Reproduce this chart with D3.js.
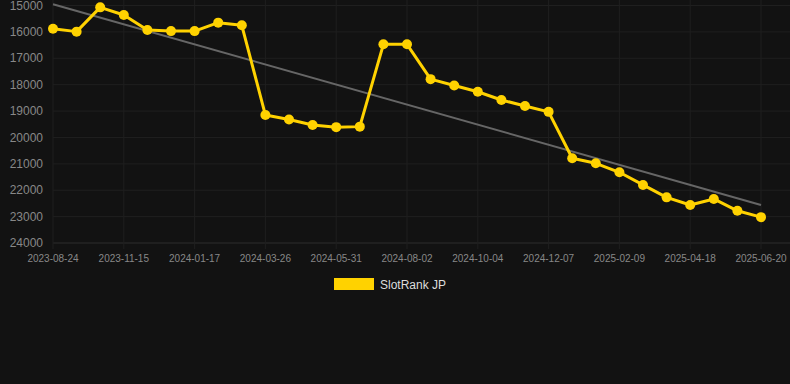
<!DOCTYPE html>
<html>
<head>
<meta charset="utf-8">
<script src="https://cdn.jsdelivr.net/npm/d3@7"></script>
<style>
  html, body { margin: 0; padding: 0; background: #121212; }
  svg { display: block; font-family: "Liberation Sans", Arial, sans-serif; }
</style>
</head>
<body>
<div id="chart"></div>
<script>
// rank values, one per sample (31 samples, every 3rd labelled)
var rankValues = [15880, 15990, 15070, 15360, 15930, 15970, 15970, 15650, 15750, 19150,
                  19320, 19530, 19610, 19590, 16470, 16470, 17790, 18030, 18270, 18580,
                  18810, 19030, 20790, 20980, 21320, 21800, 22270, 22560, 22330, 22780, 23020];
var tickLabels = ["2023-08-24", "2023-11-15", "2024-01-17", "2024-03-26", "2024-05-31", "2024-08-02",
                  "2024-10-04", "2024-12-07", "2025-02-09", "2025-04-18", "2025-06-20"];
var yTicks = [15000, 16000, 17000, 18000, 19000, 20000, 21000, 22000, 23000, 24000];
var trendValues = [14950, 22560];   // trend line at first and last sample
var seriesName = "SlotRank JP";

var width = 790, height = 384;
var plotLeft = 53, plotRight = 761, plotTop = 5.5, plotBottom = 243;

var svg = d3.select("#chart").append("svg")
    .attr("width", width)
    .attr("height", height);

svg.append("rect").attr("width", width).attr("height", height).attr("fill", "#121212");

var x = d3.scaleLinear().domain([0, rankValues.length - 1]).range([plotLeft, plotRight]);
var y = d3.scaleLinear().domain([15000, 24000]).range([plotTop, plotBottom]);

// horizontal grid
svg.append("g").selectAll("line")
    .data(yTicks)
    .enter().append("line")
    .attr("x1", plotLeft).attr("x2", width)
    .attr("y1", function(d) { return y(d); })
    .attr("y2", function(d) { return y(d); })
    .attr("stroke", function(d) { return d === 24000 ? "#2c2c2c" : "#1f1f1f"; })
    .attr("stroke-width", 1);

// vertical grid at labelled samples
var tickIdx = tickLabels.map(function(d, i) { return i * 3; });
svg.append("g").selectAll("line")
    .data(tickIdx)
    .enter().append("line")
    .attr("x1", function(d) { return x(d); })
    .attr("x2", function(d) { return x(d); })
    .attr("y1", 0).attr("y2", plotBottom + 6)
    .attr("stroke", "#1f1f1f")
    .attr("stroke-width", 1);

// y axis labels
svg.append("g").selectAll("text")
    .data(yTicks)
    .enter().append("text")
    .attr("x", 43)
    .attr("y", function(d) { return y(d); })
    .attr("dy", "0.35em")
    .attr("text-anchor", "end")
    .attr("fill", "#888")
    .attr("font-size", 12)
    .text(function(d) { return d; });

// x axis labels
svg.append("g").selectAll("text")
    .data(tickLabels)
    .enter().append("text")
    .attr("x", function(d, i) { return x(i * 3); })
    .attr("y", 262)
    .attr("text-anchor", "middle")
    .attr("fill", "#888")
    .attr("font-size", 10)
    .text(function(d) { return d; });

// trend line
svg.append("line")
    .attr("x1", x(0)).attr("y1", y(trendValues[0]))
    .attr("x2", x(rankValues.length - 1)).attr("y2", y(trendValues[1]))
    .attr("stroke", "#666")
    .attr("stroke-width", 2);

// series
var line = d3.line()
    .x(function(d, i) { return x(i); })
    .y(function(d) { return y(d); });

svg.append("path")
    .datum(rankValues)
    .attr("d", line)
    .attr("fill", "none")
    .attr("stroke", "#ffd200")
    .attr("stroke-width", 3)
    .attr("stroke-linejoin", "round");

svg.append("g").selectAll("circle")
    .data(rankValues)
    .enter().append("circle")
    .attr("cx", function(d, i) { return x(i); })
    .attr("cy", function(d) { return y(d); })
    .attr("r", 5)
    .attr("fill", "#ffd200");

// legend
var legend = svg.append("g").attr("transform", "translate(334,278)");
legend.append("rect").attr("width", 40).attr("height", 12).attr("fill", "#ffd200");
legend.append("text")
    .attr("x", 46).attr("y", 10.5)
    .attr("fill", "#ddd")
    .attr("font-size", 12)
    .text(seriesName);
</script>
</body>
</html>
